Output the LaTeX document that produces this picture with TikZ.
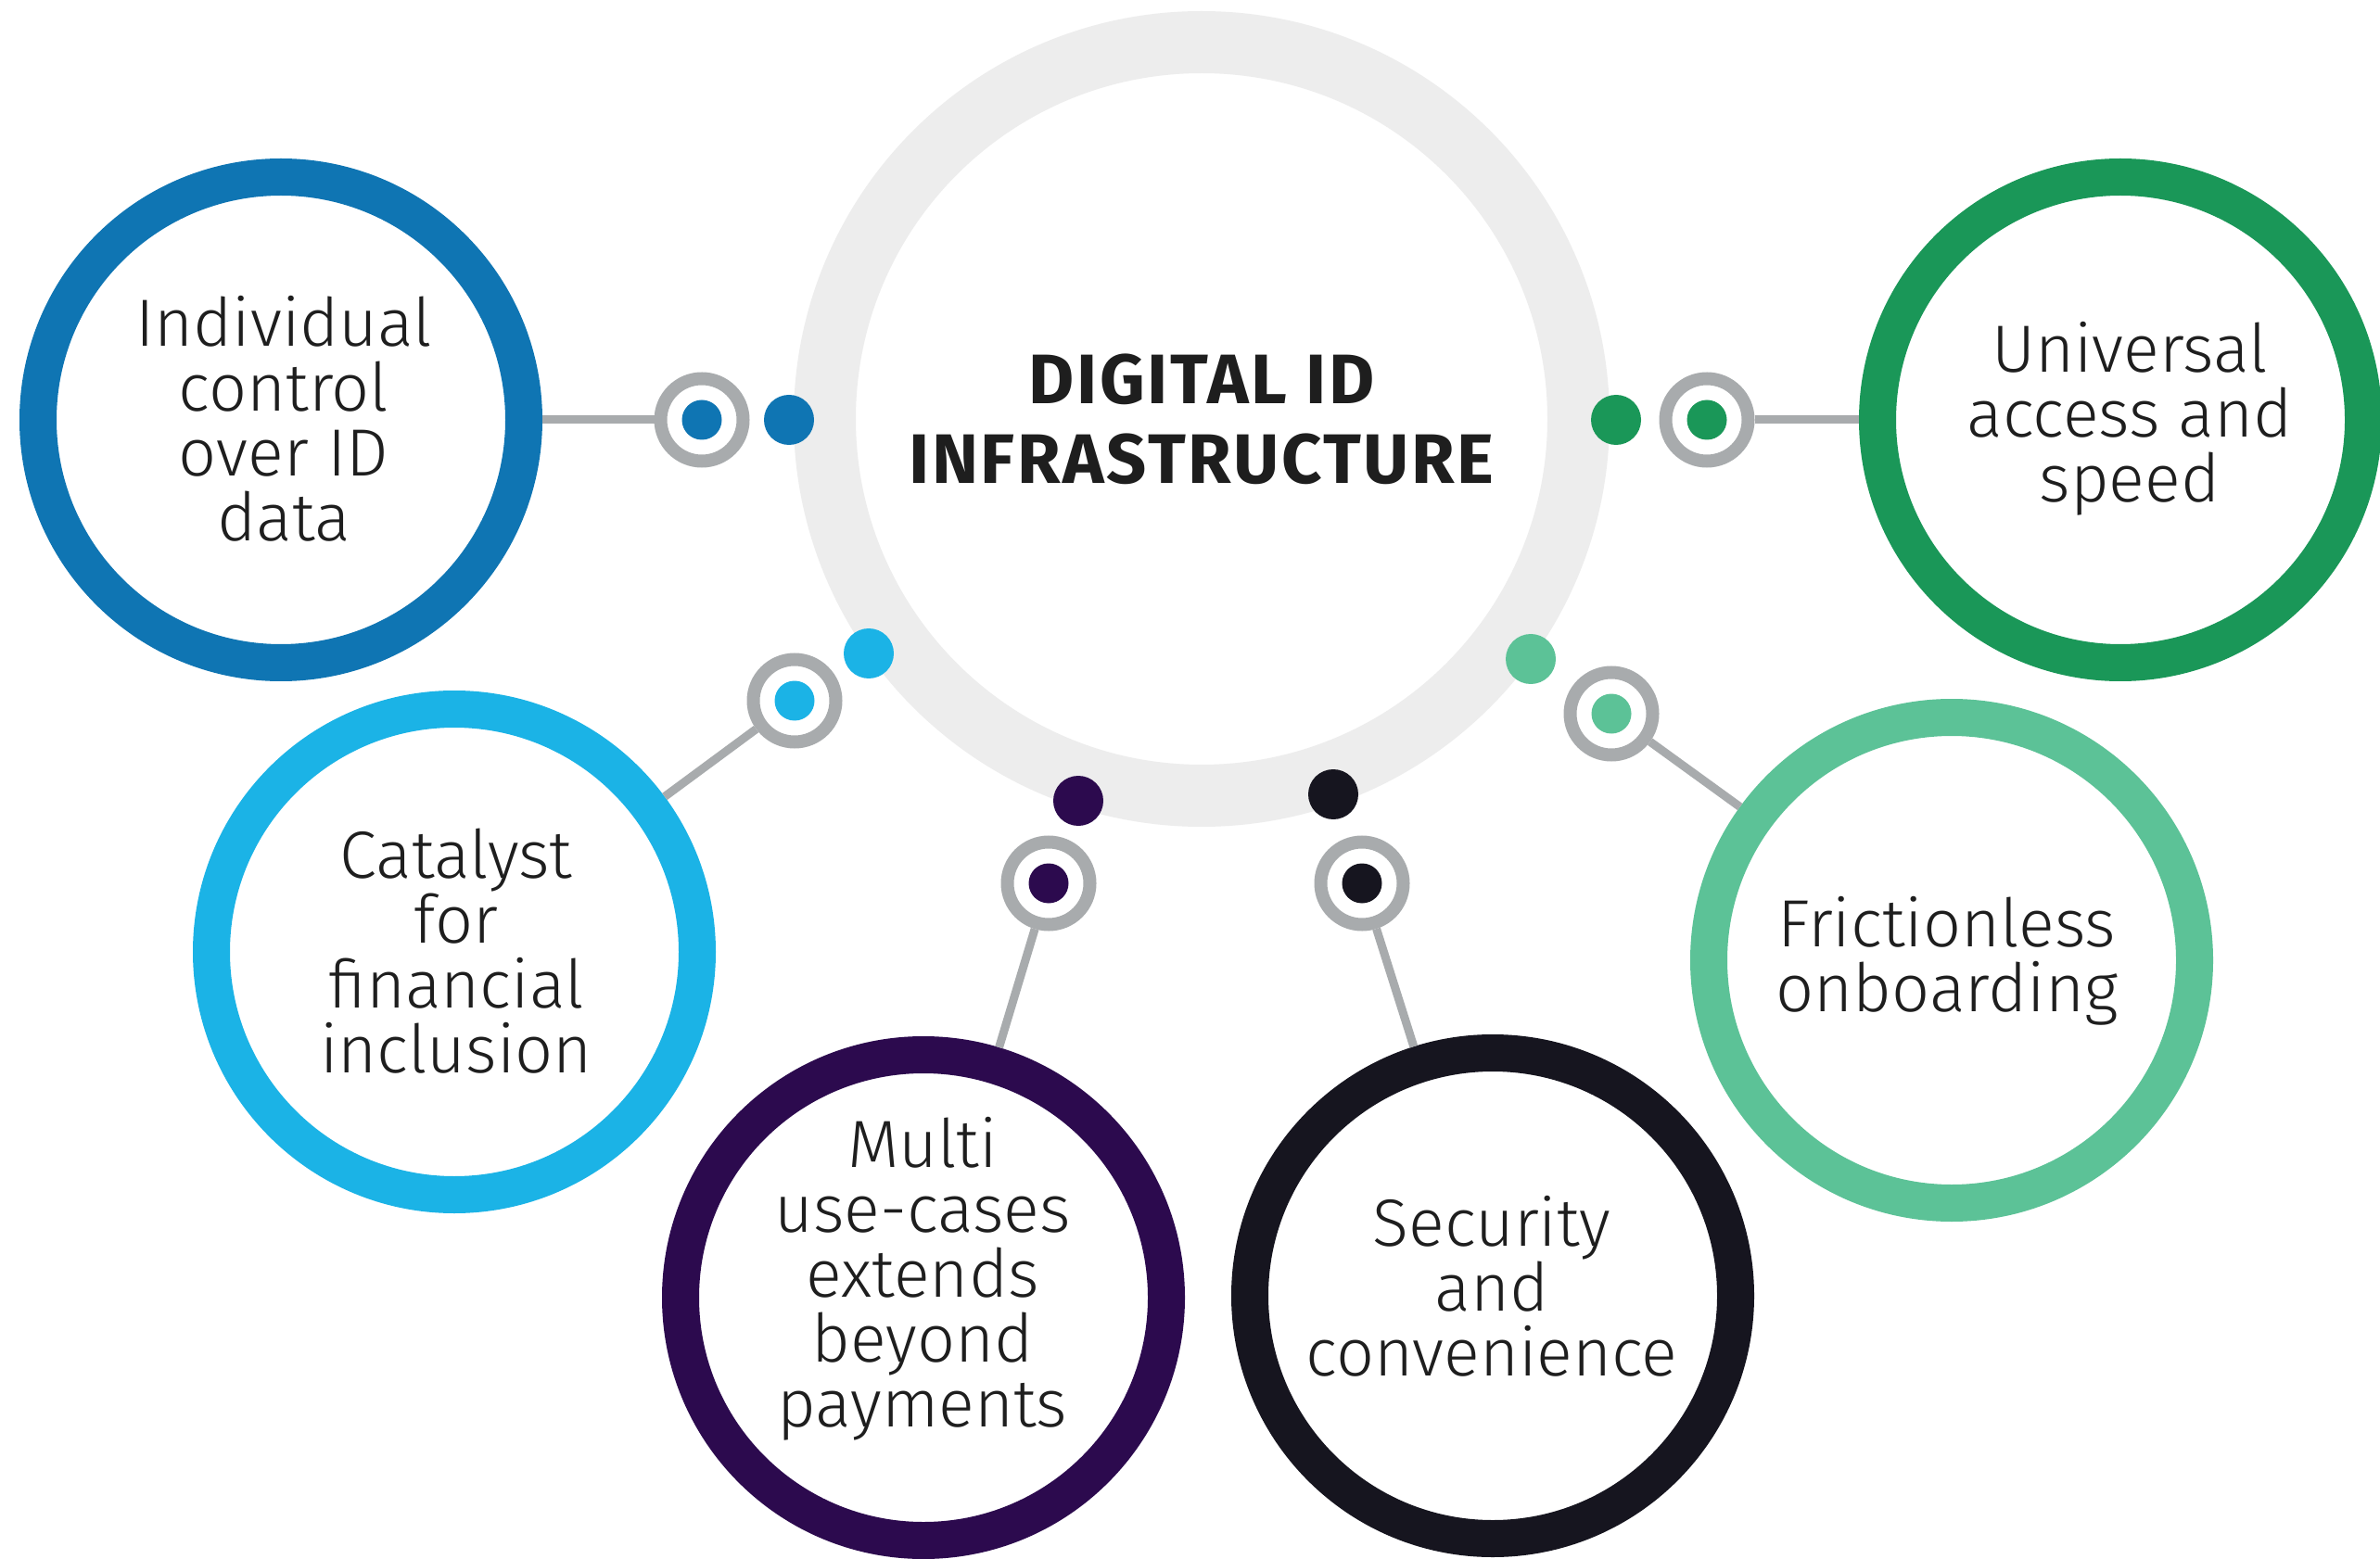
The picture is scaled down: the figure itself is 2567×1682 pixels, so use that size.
\documentclass[tikz,border=0pt]{standalone}
\usepackage{fontspec}
\setmainfont{Fira Sans}
\newfontfamily\titlefont{Fira Sans}[LetterSpace=3.5]
\IfFontExistsTF{Fira Sans Light}{\newfontfamily\lightfont{Fira Sans Light}}{\newfontfamily\lightfont{Fira Sans}}
\definecolor{blueD}{HTML}{0F75B3}
\definecolor{cyanC}{HTML}{1BB3E6}
\definecolor{purpleC}{HTML}{2C0A4E}
\definecolor{blackC}{HTML}{16151F}
\definecolor{greenD}{HTML}{1A9758}
\definecolor{greenL}{HTML}{5CC297}
\definecolor{ringgrey}{HTML}{EDEDED}
\definecolor{conngrey}{HTML}{A8ABAD}
\definecolor{textc}{HTML}{1E1E1E}
\begin{document}
\begin{tikzpicture}[x=0.1mm,y=-0.1mm,
  bigring/.style={circle, draw=#1, line width=4mm, minimum size=52.4mm, inner sep=0pt},
  hubring/.style={circle, draw=ringgrey, line width=6.7mm, minimum size=81.3mm, inner sep=0pt,
    align=center, text=textc, font=\titlefont\bfseries\fontsize{21.5}{24.5}\selectfont},
  target/.style={circle, draw=conngrey, line width=1.4mm, minimum size=8.9mm, inner sep=0pt, fill=white},
  core/.style={circle, fill=#1, minimum size=4.3mm, inner sep=0pt},
  dotc/.style={circle, fill=#1, minimum size=5.4mm, inner sep=0pt},
  conn/.style={draw=conngrey, line width=0.9mm},
  captxt/.style={align=center, text=textc, font=\lightfont\fontsize{20.5}{19.9}\selectfont}
]
\useasboundingbox (0,0) rectangle (2567,1682);
\fill[white] (0,0) rectangle (2567,1682);

% central hub
\node[hubring] (hub) at (1296,452) {DIGITAL ID\\INFRASTRUCTURE};

% big circles
\node[bigring=blueD]   (c1) at (303,453) {};
\node[bigring=greenD]  (c2) at (2287,453) {};
\node[bigring=cyanC]   (c3) at (490,1027) {};
\node[bigring=greenL]  (c4) at (2105,1036) {};
\node[bigring=purpleC] (c5) at (996,1400) {};
\node[bigring=blackC]  (c6) at (1610,1398) {};

% captions
\node[captxt] (l1) at (306,452) {Individual\\control\\over ID\\data};
\node[captxt] (l2) at (2297,452) {Universal\\access and\\speed};
\node[captxt] (l3) at (492,1026) {Catalyst\\for\\financial\\inclusion};
\node[captxt] (l4) at (2100,1037) {Frictionless\\onboarding};
\node[captxt] (l5) at (995,1380) {Multi\\use-cases\\extends\\beyond\\payments};
\node[captxt] (l6) at (1609,1388) {Security\\and\\convenience};

% targets
\node[target] (t1) at (757,453) {};
\node[target] (t2) at (1841,453) {};
\node[target] (t3) at (857,756) {};
\node[target] (t4) at (1738,770) {};
\node[target] (t5) at (1131,953) {};
\node[target] (t6) at (1469,953) {};
\node[core=blueD]   (k1) at (t1) {};
\node[core=greenD]  (k2) at (t2) {};
\node[core=cyanC]   (k3) at (t3) {};
\node[core=greenL]  (k4) at (t4) {};
\node[core=purpleC] (k5) at (t5) {};
\node[core=blackC]  (k6) at (t6) {};

% dots on the hub
\node[dotc=blueD]   (d1) at (851,453) {};
\node[dotc=greenD]  (d2) at (1743,453) {};
\node[dotc=cyanC]   (d3) at (937,705) {};
\node[dotc=greenL]  (d4) at (1651,711) {};
\node[dotc=purpleC] (d5) at (1163,864) {};
\node[dotc=blackC]  (d6) at (1438,857) {};

% connectors
\draw[conn] (t1) -- (c1);
\draw[conn] (t2) -- (c2);
\draw[conn] (t3) -- (c3);
\draw[conn] (t4) -- (c4);
\draw[conn] (t5) -- (c5);
\draw[conn] (t6) -- (c6);
\end{tikzpicture}
\end{document}
